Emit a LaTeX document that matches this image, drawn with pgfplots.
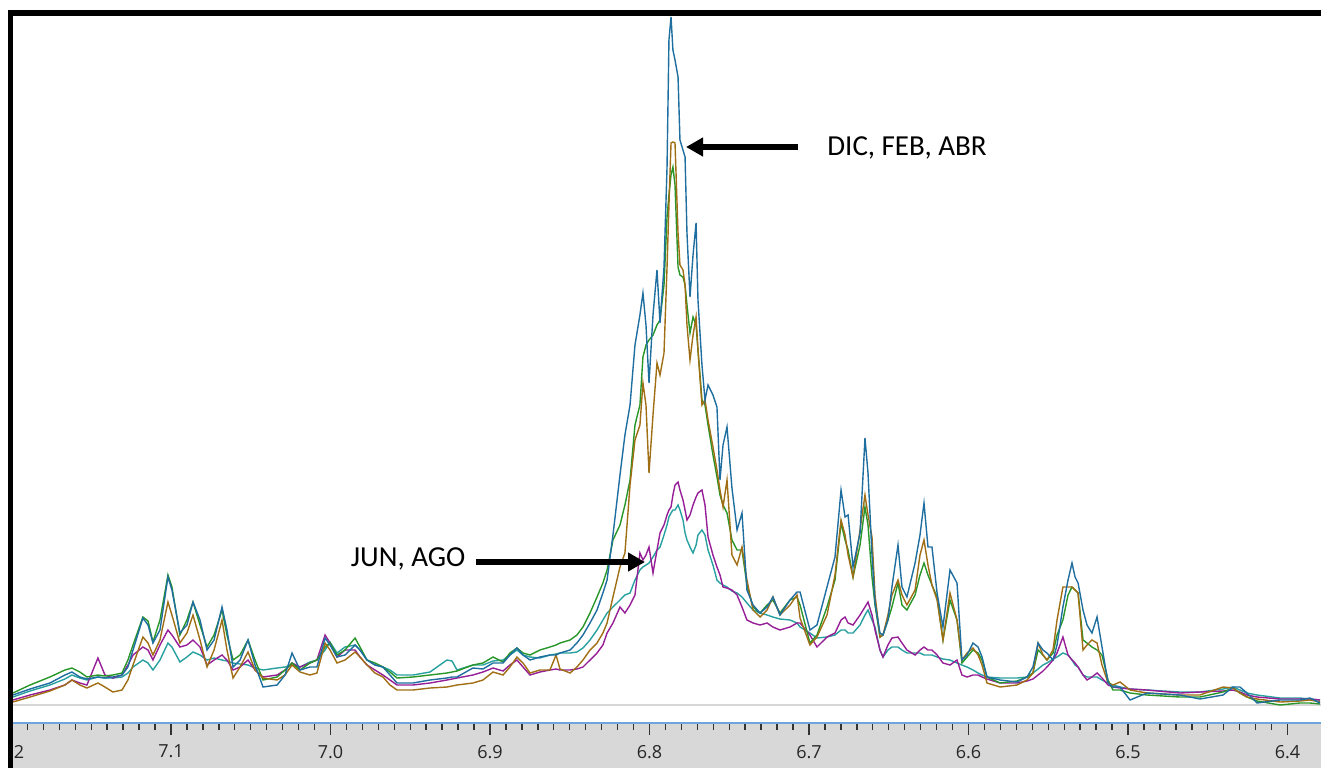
\documentclass[border=0pt]{standalone}
\usepackage{fontspec}
\setmainfont{Carlito}
\newfontfamily\tickfont{Open Sans}
\usepackage{pgfplots}
\pgfplotsset{compat=1.18}
\usepackage{pgfplotstable}
\usetikzlibrary{arrows.meta}
\definecolor{cB}{RGB}{31,110,160}
\definecolor{cG}{RGB}{40,150,40}
\definecolor{cN}{RGB}{160,110,20}
\definecolor{cP}{RGB}{150,30,150}
\definecolor{cT}{RGB}{40,160,160}
\definecolor{bandgray}{RGB}{216,216,216}
\definecolor{axblue}{RGB}{110,165,220}
\definecolor{basegray}{RGB}{215,215,215}
\definecolor{tickgray}{RGB}{50,50,50}
\pgfplotstableread{
x B G N P T
7.1991 10 12 3 5 8
7.1884 16 20 8 10 14
7.1759 22 28 14 15 20
7.1665 30 35 20 20 26
7.1621 33 37 25 25 30
7.1571 28 33 20 22 27
7.1527 26 28 17 20 25
7.1458 28 30 22 47 28
7.1414 27 29 18 30 27
7.1364 28 30 13 27 27
7.1307 30 32 15 30 28
7.1270 38 45 25 40 32
7.1238 55 60 40 50 38
7.1176 87 88 68 58 45
7.1144 80 84 62 55 42
7.1113 62 63 50 45 35
7.1069 75 85 65 60 45
7.1019 128 130 103 75 62
7.0994 115 118 90 70 58
7.0944 72 70 62 58 43
7.0900 80 85 72 60 48
7.0862 103 103 90 65 53
7.0818 85 80 65 58 50
7.0774 55 58 38 40 45
7.0730 65 70 55 45 47
7.0680 98 95 85 50 45
7.0649 75 70 55 45 44
7.0611 38 45 27 35 42
7.0567 45 50 38 38 41
7.0517 65 65 53 45 40
7.0473 40 45 35 35 37
7.0423 18 25 27 28 35
7.0335 20 28 25 30 37
7.0285 30 35 30 35 38
7.0241 52 42 40 42 40
7.0191 35 35 33 38 38
7.0129 38 42 30 42 43
7.0085 38 45 32 45 45
7.0034 67 58 62 70 55
7.0003 60 62 55 62 63
6.9959 48 50 42 48 52
6.9909 50 55 45 55 58
6.9846 60 67 53 55 60
6.9815 55 58 48 48 55
6.9771 45 45 40 40 45
6.9721 40 42 32 35 40
6.9671 38 38 28 30 38
6.9627 30 33 20 25 35
6.9583 22 27 15 20 30
6.9483 22 28 15 20 30
6.9376 25 30 17 22 33
6.9270 27 32 18 25 45
6.9238 28 33 19 26 44
6.9207 28 34 20 27 35
6.9107 37 40 22 30 40
6.9044 36 42 25 33 40
6.8981 42 48 33 37 44
6.8918 42 43 30 34 45
6.8875 50 52 38 40 50
6.8831 57 57 48 45 55
6.8793 50 52 42 38 50
6.8749 45 50 32 30 48
6.8687 48 55 35 33 47
6.8624 50 58 35 35 50
6.8586 50 60 50 36 51
6.8561 52 62 36 35 52
6.8498 55 65 32 35 52
6.8455 62 70 38 36 53
6.8417 70 78 45 38 57
6.8373 82 92 55 45 65
6.8329 95 108 62 52 75
6.8292 112 122 72 60 85
6.8266 125 135 82 72 92
6.8229 170 165 108 82 98
6.8185 230 180 138 98 105
6.8154 270 200 152 92 110
6.8122 300 225 220 100 112
6.8091 360 280 265 110 125
6.8060 390 300 280 152 135
6.8041 412 348 322 145 138
6.8022 380 360 300 150 140
6.8003 322 365 232 158 142
6.7978 390 370 290 132 148
6.7953 435 380 342 155 155
6.7934 382 385 330 172 158
6.7909 438 420 352 180 170
6.7890 538 488 438 190 180
6.7878 665 510 500 195 188
6.7865 688 530 562 198 192
6.7853 655 538 563 210 195
6.7840 645 520 562 220 195
6.7821 628 438 472 223 200
6.7809 565 430 440 215 195
6.7790 555 428 435 205 185
6.7777 548 420 420 195 172
6.7765 472 400 380 185 165
6.7746 408 372 345 190 158
6.7727 450 388 370 200 152
6.7708 482 380 388 208 160
6.7696 405 355 355 212 170
6.7671 340 305 300 215 175
6.7652 305 300 305 200 170
6.7633 320 280 285 168 155
6.7602 310 250 258 150 140
6.7577 298 228 235 138 125
6.7558 225 210 215 130 122
6.7539 260 200 198 118 120
6.7514 278 192 225 117 118
6.7483 217 165 150 115 114
6.7451 175 155 140 110 112
6.7420 192 155 158 98 108
6.7389 115 120 125 85 102
6.7351 100 98 95 82 95
6.7307 92 92 88 80 92
6.7263 98 100 95 82 90
6.7226 108 105 108 78 88
6.7182 90 92 90 75 86
6.7119 105 105 100 78 85
6.7075 113 108 110 82 82
6.7056 113 100 87 82 78
6.6994 75 62 60 70 72
6.6950 80 70 68 58 67
6.6887 118 98 90 68 68
6.6837 148 125 130 72 70
6.6799 215 182 185 85 75
6.6774 188 165 170 88 75
6.6755 190 155 150 82 72
6.6724 138 128 128 80 72
6.6680 172 160 175 90 80
6.6649 267 198 210 98 90
6.6630 232 180 190 103 95
6.6605 150 128 168 90 85
6.6586 102 100 110 75 78
6.6555 72 68 68 55 55
6.6536 70 70 70 48 48
6.6505 85 85 90 60 55
6.6480 118 98 110 67 58
6.6442 160 122 125 68 58
6.6417 118 100 110 62 55
6.6386 108 95 100 55 52
6.6335 142 110 115 50 52
6.6304 170 130 150 55 52
6.6279 202 142 165 58 50
6.6254 158 130 140 55 50
6.6229 158 120 120 55 50
6.6197 112 108 105 50 48
6.6160 78 65 65 42 46
6.6116 135 105 112 40 45
6.6072 122 85 85 45 42
6.6041 45 42 45 30 40
6.6009 50 48 52 28 38
6.5972 62 55 57 30 35
6.5940 58 52 50 30 32
6.5915 48 45 40 28 30
6.5884 28 28 22 26 28
6.5802 25 22 18 22 27
6.5696 23 24 20 22 27
6.5633 28 28 25 24 28
6.5596 38 32 32 26 32
6.5564 62 55 62 30 36
6.5533 55 50 50 34 40
6.5508 52 45 45 38 42
6.5470 45 52 55 45 46
6.5445 60 70 85 52 48
6.5408 98 85 118 68 52
6.5376 125 110 118 50 50
6.5351 142 118 118 45 45
6.5332 128 115 115 42 40
6.5313 122 112 112 38 38
6.5282 95 65 55 30 30
6.5257 80 62 60 25 28
6.5226 72 58 65 28 28
6.5194 88 55 62 32 28
6.5163 58 50 40 27 25
6.5125 22 25 22 20 22
6.5094 18 15 20 18 20
6.5050 18 15 23 17 18
6.4987 5 12 15 16 16
6.4881 12 10 12 15 15
6.4674 10 8 10 12 13
6.4549 6 8 10 13 13
6.4404 10 13 18 14 16
6.4342 18 17 17 15 18
6.4298 18 12 12 13 15
6.4254 12 8 8 10 12
6.4191 2 4 6 8 10
6.4047 5 0 3 6 7
6.3922 5 2 4 6 7
6.3859 7 2 5 6 6
6.3796 2 1 3 5 5
}\spec

\begin{document}
\begin{tikzpicture}
\useasboundingbox (-5.75pt,-22.5pt) rectangle (654.75pt,361.5pt);
\fill[bandgray] (-5.75pt,-22.5pt) rectangle (654.75pt,0pt);
\begin{axis}[
  at={(0,0)}, anchor=south west,
  scale only axis, width=654.75pt, height=354.5pt,
  x dir=reverse, xmin=6.379, xmax=7.2, ymin=-18, ymax=691,
  axis x line*=bottom, axis y line=none,
  x axis line style={color=axblue, line width=1pt},
  xtick={7.2,7.1,7.0,6.9,6.8,6.7,6.6,6.5,6.4},
  xticklabels={7.2,7.1,7.0,6.9,6.8,6.7,6.6,6.5,6.4},
  minor x tick num=9,
  tick align=outside,
  major tick length=6pt, minor tick length=3.5pt,
  every tick/.style={color=tickgray, line width=0.7pt},
  xticklabel style={font=\tickfont\fontsize{9}{10}\selectfont, text=black!85, yshift=-1.5pt},
  every axis plot/.append style={line width=0.7pt},
]
\draw[basegray, line width=0.8pt] (axis cs:7.2,0) -- (axis cs:6.379,0);
\addplot[cT] table[x=x,y=T]{\spec};
\addplot[cP] table[x=x,y=P]{\spec};
\addplot[cG] table[x=x,y=G]{\spec};
\addplot[cN] table[x=x,y=N]{\spec};
\addplot[cB] table[x=x,y=B]{\spec};
\end{axis}
% frame
\fill[white] (-5.75pt,-22.5pt) rectangle (-1.6pt,361.5pt);
\fill[black] (-1.6pt,-22.5pt) rectangle (0.9pt,356.5pt);
\fill[black] (-1.6pt,353.5pt) rectangle (654.75pt,356.5pt);
% annotations
\draw[line width=3pt, -{Triangle[length=8.5pt,width=9pt]}] (393.25pt,288pt) -- (337.25pt,288pt);
\node[anchor=base west, inner sep=0pt, font=\fontsize{14.5}{17}\selectfont] at (407.75pt,284pt) {DIC, FEB, ABR};
\draw[line width=3pt, -{Triangle[length=8.5pt,width=9pt]}] (232pt,80.5pt) -- (316.75pt,80.5pt);
\node[anchor=base west, inner sep=0pt, font=\fontsize{14.5}{17}\selectfont] at (169.5pt,78.5pt) {JUN, AGO};
\end{tikzpicture}
\end{document}
